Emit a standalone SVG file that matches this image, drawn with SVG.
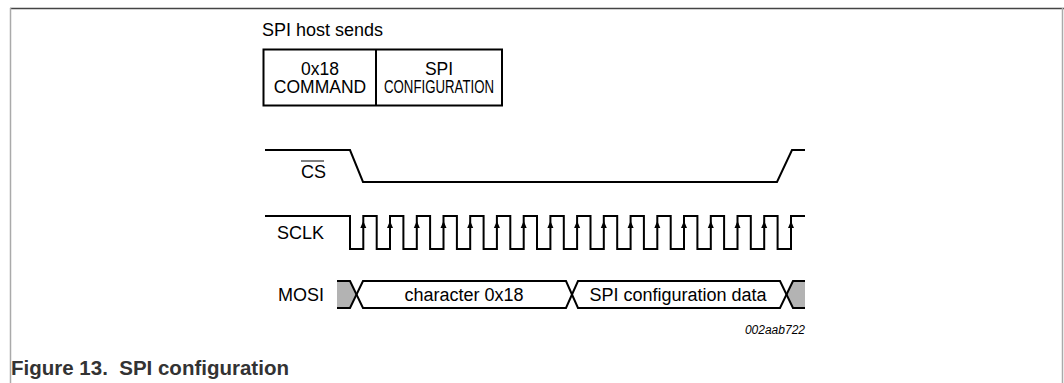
<svg xmlns="http://www.w3.org/2000/svg" width="1064" height="383" viewBox="0 0 1064 383">
<style>
.t{font-family:"Liberation Sans",Arial,sans-serif;font-size:18px;fill:#000}
.b{font-size:17.5px}
.c{text-anchor:middle}
.w{fill:none;stroke:#000;stroke-width:2;stroke-linejoin:miter}
.cap{font-family:"Liberation Sans",Arial,sans-serif;font-size:20.5px;font-weight:bold;fill:#333}
</style>
<defs>
<path id="ar" d="M0,0 L-3,7 L3,7 Z" fill="#000"/>
</defs>
<g id="frame">
<line x1="10" y1="8.5" x2="1064" y2="8.5" stroke="#444" stroke-width="1.5"/>
<line x1="10.5" y1="8" x2="10.5" y2="383" stroke="#aaa" stroke-width="1.5"/>
<line x1="1062.5" y1="8" x2="1062.5" y2="383" stroke="#aaa" stroke-width="1.5"/>
</g>
<g id="host">
<text class="t" x="262" y="36">SPI host sends</text>
<rect x="263.5" y="49.5" width="238.5" height="56" class="w"/>
<line x1="376" y1="49.5" x2="376" y2="105.5" stroke="#000" stroke-width="2"/>
<text class="t b c" x="320" y="75">0x18</text>
<text class="t b c" x="320" y="93">COMMAND</text>
<text class="t b c" x="439" y="75">SPI</text>
<text class="t b c" x="439" y="93" textLength="110" lengthAdjust="spacingAndGlyphs">CONFIGURATION</text>
</g>
<g id="cs">
<text class="t" x="301" y="178">CS</text>
<line x1="301" y1="161" x2="324" y2="161" stroke="#000" stroke-width="1"/>
<polyline class="w" points="265,150 350,150 363,182 777,182 792,150 805,150"/>
</g>
<g id="sclk">
<text class="t" x="277" y="239">SCLK</text>
<polyline class="w" points="265,216 350,216 350,249 363.3,249 363.3,216 376.7,216 376.7,249 390,249 390,216 403.4,216 403.4,249 416.8,249 416.8,216 430.1,216 430.1,249 443.5,249 443.5,216 456.9,216 456.9,249 470.2,249 470.2,216 483.6,216 483.6,249 496.9,249 496.9,216 510.3,216 510.3,249 523.7,249 523.7,216 537,216 537,249 550.4,249 550.4,216 563.8,216 563.8,249 577.1,249 577.1,216 590.5,216 590.5,249 603.8,249 603.8,216 617.2,216 617.2,249 630.6,249 630.6,216 643.9,216 643.9,249 657.3,249 657.3,216 670.7,216 670.7,249 684,249 684,216 697.4,216 697.4,249 710.8,249 710.8,216 724.1,216 724.1,249 737.5,249 737.5,216 750.8,216 750.8,249 764.2,249 764.2,216 777.6,216 777.6,249 791,249 791,216 805,216"/>
<g>
<use href="#ar" x="363.3" y="221"/><use href="#ar" x="390" y="221"/><use href="#ar" x="416.8" y="221"/><use href="#ar" x="443.5" y="221"/><use href="#ar" x="470.2" y="221"/><use href="#ar" x="496.9" y="221"/><use href="#ar" x="523.7" y="221"/><use href="#ar" x="550.4" y="221"/><use href="#ar" x="577.1" y="221"/><use href="#ar" x="603.8" y="221"/><use href="#ar" x="630.6" y="221"/><use href="#ar" x="657.3" y="221"/><use href="#ar" x="684" y="221"/><use href="#ar" x="710.8" y="221"/><use href="#ar" x="737.5" y="221"/><use href="#ar" x="764.2" y="221"/><use href="#ar" x="791" y="221"/>
</g>
</g>
<g id="mosi">
<text class="t" x="278" y="301">MOSI</text>
<polygon points="337,281 350,281 356.5,294.5 350,308 337,308" fill="#b3b3b3"/>
<polygon points="786.5,294.5 793,281 805,281 805,308 793,308" fill="#b3b3b3"/>
<polyline class="w" points="337,281 350,281 363,308 566,308 578,281 780,281 793,308 805,308"/>
<polyline class="w" points="337,308 350,308 363,281 566,281 578,308 780,308 793,281 805,281"/>
<text class="t c" x="464" y="301">character 0x18</text>
<text class="t c" x="678" y="301">SPI configuration data</text>
</g>
<text x="805" y="334" text-anchor="end" font-family="Liberation Sans, Arial, sans-serif" font-size="12" font-style="italic" fill="#000">002aab722</text>
<text class="cap" x="11" y="375" xml:space="preserve">Figure 13.  SPI configuration</text>
</svg>
